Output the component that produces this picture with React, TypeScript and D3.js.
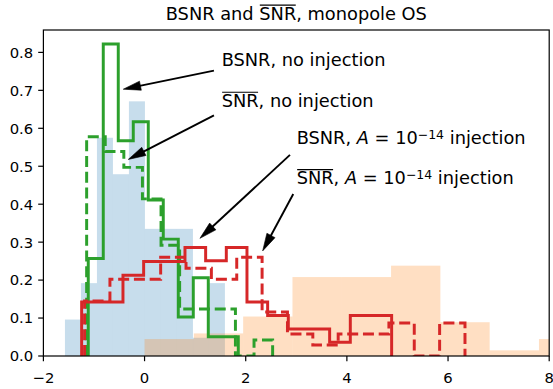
import React from 'react';
import * as d3 from 'd3';

const WIDTH = 553;
const HEIGHT = 389;
const PLOT = { left: 43.4, right: 549.2, top: 30, bottom: 356 };

const X_DOMAIN: [number, number] = [-2, 8];
const Y_MAX = 0.859;
const X_TICKS = [-2, 0, 2, 4, 6, 8];
const Y_TICKS = [0, 0.1, 0.2, 0.3, 0.4, 0.5, 0.6, 0.7, 0.8];

// Filled histograms (density) drawn underneath the step outlines
const backgroundStart = -1.574;
const backgroundWidth = 0.3163;
const backgroundDensity = [0.096, 0.192, 0.575, 0.479, 0.671, 0.335, 0.335, 0.335, 0.048, 0.192];

const injectedStart = 0;
const injectedWidth = 0.9747;
const injectedDensity = [0.0446, 0.0595, 0.104, 0.208, 0.208, 0.238, 0.089, 0.0149, 0.0446];

// BSNR / SNR-bar, no injection
const bsnrNoInjStart = -1.113;
const bsnrNoInjWidth = 0.2966;
const bsnrNoInj = [0.257, 0.822, 0.567, 0.617, 0.411, 0.308, 0.103, 0.206, 0.051, 0.051];

const snrNoInjStart = -1.145;
const snrNoInjWidth = 0.3677;
const snrNoInj = [0.578, 0.539, 0.497, 0.414, 0.292, 0.124, 0.124, 0.124, 0, 0.042];

// BSNR / SNR-bar, A = 1e-14 injection
const bsnrInjStart = -1.244;
const bsnrInjWidth = 0.4086;
const bsnrInj = [0.142, 0.142, 0.213, 0.249, 0.249, 0.286, 0.251, 0.286, 0.142, 0.107, 0.071, 0.071, 0.036, 0.107, 0.107];

const snrInjStart = -1.186;
const snrInjWidth = 0.5014;
const snrInj = [0.145, 0.202, 0.202, 0.26, 0.231, 0.202, 0.26, 0.116, 0.058, 0.029, 0.058, 0.058, 0.087, 0, 0.087];

type Seg = { t: string; over?: boolean; italic?: boolean; sup?: boolean };

const TITLE: Seg[] = [{ t: 'BSNR and ' }, { t: 'SNR', over: true }, { t: ', monopole OS' }];

const annotations: { label: Seg[]; text: [number, number]; from: [number, number]; to: [number, number] }[] = [
  { label: [{ t: 'BSNR, no injection' }], text: [1.524, 0.764], from: [1.372, 0.752], to: [-0.421, 0.703] },
  { label: [{ t: 'SNR', over: true }, { t: ', no injection' }], text: [1.524, 0.657], from: [1.372, 0.634], to: [-0.322, 0.518] },
  {
    label: [{ t: 'BSNR, ' }, { t: 'A', italic: true }, { t: ' = 10' }, { t: '\u221214', sup: true }, { t: ' injection' }],
    text: [3.007, 0.559], from: [2.875, 0.53], to: [1.095, 0.31],
  },
  {
    label: [{ t: 'SNR', over: true }, { t: ', ' }, { t: 'A', italic: true }, { t: ' = 10' }, { t: '\u221214', sup: true }, { t: ' injection' }],
    text: [3.007, 0.453], from: [2.94, 0.427], to: [2.335, 0.277],
  },
];

const FONT = '"DejaVu Sans", "Liberation Sans", sans-serif';
const LABEL_SIZE = 17.8;
const TICK_SIZE = 14.8;

let measureCtx: CanvasRenderingContext2D | null = null;
function measure(text: string, size: number, italic = false): number {
  if (!measureCtx && typeof document !== 'undefined') {
    measureCtx = document.createElement('canvas').getContext('2d');
  }
  if (!measureCtx) return text.length * size * 0.6;
  measureCtx.font = `${italic ? 'italic ' : ''}${size}px ${FONT}`;
  return measureCtx.measureText(text).width;
}

function segWidth(segs: Seg[], size: number) {
  return segs.reduce((acc, s) => acc + measure(s.t, s.sup ? size * 0.7 : size, s.italic), 0);
}

function RichText({ segs, x, y, size }: { segs: Seg[]; x: number; y: number; size: number }) {
  let cx = x;
  const out: React.ReactNode[] = [];
  segs.forEach((s, i) => {
    const fs = s.sup ? size * 0.7 : size;
    const w = measure(s.t, fs, s.italic);
    const yy = s.sup ? y - size * 0.3 : y;
    out.push(
      <text key={`t${i}`} x={cx} y={yy} fontSize={fs} fontStyle={s.italic ? 'italic' : 'normal'} style={{ whiteSpace: 'pre' }} fill="#000">
        {s.t}
      </text>
    );
    if (s.over) {
      const oy = y - size * 0.81;
      out.push(<line key={`o${i}`} x1={cx + 0.5} x2={cx + w - 0.5} y1={oy} y2={oy} stroke="#000" strokeWidth={1.2} />);
    }
    cx += w;
  });
  return <g fontFamily={FONT}>{out}</g>;
}

function stepPath(start: number, width: number, heights: number[], x: d3.ScaleLinear<number, number>, y: d3.ScaleLinear<number, number>) {
  const pts: [number, number][] = [[x(start), y(0)]];
  heights.forEach((h, i) => {
    const x0 = start + i * width;
    pts.push([x(x0), y(h)], [x(x0 + width), y(h)]);
  });
  pts.push([x(start + heights.length * width), y(0)]);
  return d3.line()(pts) ?? '';
}

function Arrow({ from, to }: { from: [number, number]; to: [number, number] }) {
  const dx = to[0] - from[0];
  const dy = to[1] - from[1];
  const len = Math.hypot(dx, dy);
  const ux = dx / len;
  const uy = dy / len;
  const headLen = 17.5;
  const headHalf = 4.6;
  const bx = to[0] - ux * headLen;
  const by = to[1] - uy * headLen;
  const px = -uy;
  const py = ux;
  const head = [
    [to[0], to[1]],
    [bx + px * headHalf, by + py * headHalf],
    [bx - px * headHalf, by - py * headHalf],
  ]
    .map((p) => p.join(','))
    .join(' ');
  return (
    <g>
      <line x1={from[0]} y1={from[1]} x2={bx + ux * 2} y2={by + uy * 2} stroke="#000" strokeWidth={1.9} />
      <polygon points={head} fill="#000" stroke="#000" strokeWidth={0.6} strokeLinejoin="miter" />
    </g>
  );
}

export default function App() {
  const x = d3.scaleLinear().domain(X_DOMAIN).range([PLOT.left, PLOT.right]);
  const y = d3.scaleLinear().domain([0, Y_MAX]).range([PLOT.bottom, PLOT.top]);

  const bars = (start: number, width: number, heights: number[], color: string, key: string) =>
    heights.map((h, i) => {
      const x0 = x(start + i * width);
      const x1 = x(start + (i + 1) * width);
      return <rect key={`${key}${i}`} x={x0} y={y(h)} width={x1 - x0} height={y(0) - y(h)} fill={color} fillOpacity={0.25} />;
    });

  const titleSegs = TITLE;
  const titleW = segWidth(titleSegs, LABEL_SIZE);
  const titleX = (PLOT.left + PLOT.right) / 2 - titleW / 2;

  const LW = 2.97;
  const dash = '11 4.75';

  return (
    <svg width={WIDTH} height={HEIGHT} style={{ position: 'absolute', left: 0, top: 0, background: '#fff' }}>
      <defs>
        <clipPath id="plot-area">
          <rect x={PLOT.left} y={PLOT.top} width={PLOT.right - PLOT.left} height={PLOT.bottom - PLOT.top} />
        </clipPath>
      </defs>
      <rect x={0} y={0} width={WIDTH} height={HEIGHT} fill="#fff" />

      <g clipPath="url(#plot-area)">
        {bars(backgroundStart, backgroundWidth, backgroundDensity, '#1f77b4', 'b')}
        {bars(injectedStart, injectedWidth, injectedDensity, '#ff7f0e', 'o')}
        <path d={stepPath(bsnrNoInjStart, bsnrNoInjWidth, bsnrNoInj, x, y)} fill="none" stroke="#2ca02c" strokeWidth={LW} strokeLinejoin="miter" />
        <path d={stepPath(snrNoInjStart, snrNoInjWidth, snrNoInj, x, y)} fill="none" stroke="#2ca02c" strokeWidth={LW} strokeDasharray={dash} strokeLinejoin="miter" />
        <path d={stepPath(bsnrInjStart, bsnrInjWidth, bsnrInj, x, y)} fill="none" stroke="#d62728" strokeWidth={LW} strokeLinejoin="miter" />
        <path d={stepPath(snrInjStart, snrInjWidth, snrInj, x, y)} fill="none" stroke="#d62728" strokeWidth={LW} strokeDasharray={dash} strokeLinejoin="miter" />
      </g>

      {/* frame */}
      <rect x={PLOT.left} y={PLOT.top} width={PLOT.right - PLOT.left} height={PLOT.bottom - PLOT.top} fill="none" stroke="#000" strokeWidth={1.2} />

      {/* axes */}
      <g fontFamily={FONT} fontSize={TICK_SIZE}>
        {X_TICKS.map((t) => (
          <g key={`x${t}`}>
            <line x1={x(t)} x2={x(t)} y1={PLOT.bottom} y2={PLOT.bottom + 5.2} stroke="#000" strokeWidth={1.2} />
            <text x={x(t)} y={383} textAnchor="middle">
              {t < 0 ? `\u2212${Math.abs(t)}` : `${t}`}
            </text>
          </g>
        ))}
        {Y_TICKS.map((t) => (
          <g key={`y${t}`}>
            <line x1={PLOT.left - 5.2} x2={PLOT.left} y1={y(t)} y2={y(t)} stroke="#000" strokeWidth={1.2} />
            <text x={PLOT.left - 10.2} y={y(t) + 5.4} textAnchor="end">
              {t.toFixed(1)}
            </text>
          </g>
        ))}
      </g>

      {/* annotations */}
      {annotations.map((a, i) => (
        <g key={`a${i}`}>
          <RichText segs={a.label} x={x(a.text[0])} y={y(a.text[1])} size={LABEL_SIZE} />
          <Arrow from={[x(a.from[0]), y(a.from[1])]} to={[x(a.to[0]), y(a.to[1])]} />
        </g>
      ))}

      <RichText segs={titleSegs} x={titleX} y={19.5} size={LABEL_SIZE} />
    </svg>
  );
}
